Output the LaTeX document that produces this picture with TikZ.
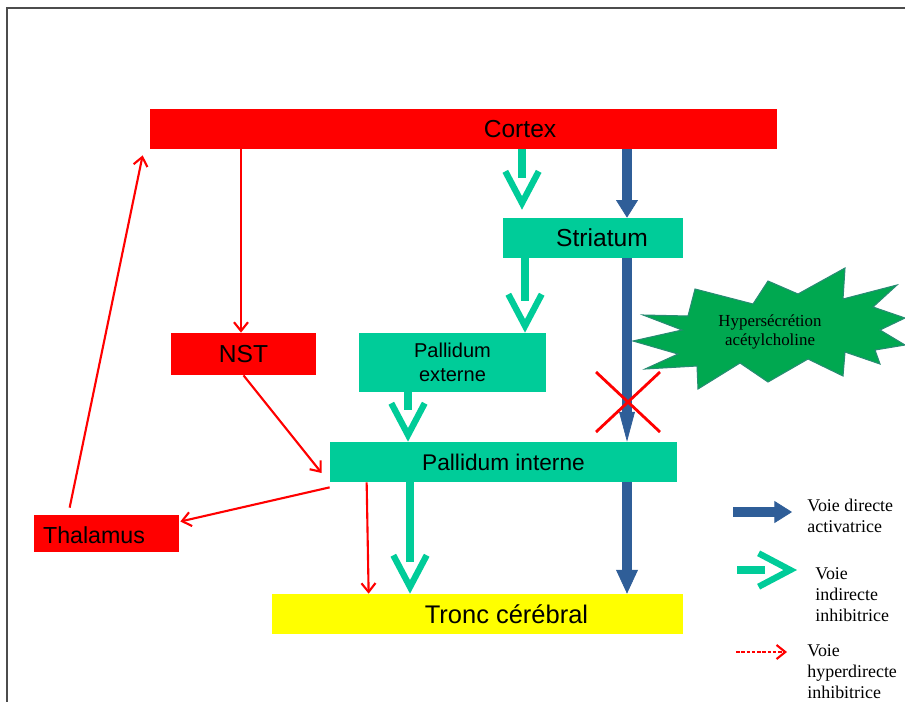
\documentclass[tikz,border=0pt]{standalone}
\usepackage{fontspec}
\setmainfont{Liberation Serif}
\setsansfont{Liberation Sans}
\usetikzlibrary{arrows.meta}
\definecolor{corred}{RGB}{255,0,0}
\definecolor{indteal}{RGB}{0,204,153}
\definecolor{tronyellow}{RGB}{255,255,0}
\definecolor{dirblue}{RGB}{47,94,152}
\definecolor{burstgreen}{RGB}{0,168,80}
\definecolor{burstline}{RGB}{40,140,115}
\tikzset{
  box/.style={inner sep=0pt, font=\sffamily\fontsize{14}{16}\selectfont},
  redbox/.style={box, fill=corred},
  tealbox/.style={box, fill=indteal},
  direct/.style={draw=dirblue, line width=6.2pt, -{Triangle[length=10pt,width=12.5pt,line width=0.4pt]}},
  indirect/.style={draw=indteal, line width=5pt, shorten >=18pt,
    postaction={draw=indteal, line width=3.6pt, shorten >=#1, dash pattern=on 0pt off 2000pt,
      -{Straight Barb[length=18pt,width=19pt]}}},
  indirect/.default=0pt,
  hyper/.style={draw=corred, line width=1.2pt, -{Straight Barb[length=5pt,width=8pt]}},
  legend/.style={align=left, anchor=west, inner sep=0pt, font=\fontsize{10.2}{12}\selectfont},
}
\begin{document}
\begin{tikzpicture}[x=0.2mm,y=-0.2mm]
    \useasboundingbox (0,0) rectangle (905,702);
    \draw[black!70, line width=1pt] (6,8) -- (905,8) (7,8) -- (7,702);
    %
    \node[redbox, minimum width=12.54cm, minimum height=0.8cm, label={[box, xshift=1.13cm]center:Cortex}] (cortex) at (463.5,129) {};
    \node[tealbox, minimum width=3.6cm, minimum height=0.8cm] (striatum) at (593,238) {\hspace*{0.36cm}Striatum};
    \node[redbox, minimum width=2.9cm, minimum height=0.84cm] (nst) at (243.5,354) {NST};
    \node[tealbox, minimum width=3.74cm, minimum height=1.18cm, align=center, font=\sffamily\fontsize{11.4}{13.6}\selectfont] (pext) at (452.5,362.5) {Pallidum\\externe};
    \node[tealbox, minimum width=6.94cm, minimum height=0.8cm, font=\sffamily\fontsize{12.9}{15}\selectfont] (pint) at (503.5,462) {Pallidum interne};
    \node[redbox, minimum width=2.9cm, minimum height=0.74cm, label={[box, font=\sffamily\fontsize{13.2}{15}\selectfont, xshift=-0.25cm, yshift=-0.03cm]center:Thalamus}] (thal) at (106.5,533.5) {};
    \node[box, fill=tronyellow, minimum width=8.22cm, minimum height=0.8cm, label={[box, font=\sffamily\fontsize{14.5}{17}\selectfont, xshift=0.58cm]center:Tronc cérébral}] (tronc) at (477.5,614) {};
    %
    \filldraw[fill=burstgreen, draw=burstline, line width=0.6pt] (643,315) -- (688,316) -- (695,289) -- (753,304) -- (768,281) -- (798,294) -- (845,268) -- (843,299) -- (897,285) -- (873,307) -- (905,318) -- (880,330) -- (905,345) -- (875,350) -- (880,364) -- (845,352) -- (843,376) -- (808,359) -- (768,382) -- (740,363) -- (698,389) -- (697,366) -- (645,369) -- (678,354) -- (633,341) -- (682,330) -- cycle;
    \node[align=center, font=\fontsize{9.6}{11.3}\selectfont] (burst) at (770,332) {Hypersécrétion\\acétylcholine};
    %
    \coordinate (dcol) at (627,0);
    \coordinate (icola) at (522,0);
    \coordinate (icolb) at (525,0);
    \coordinate (icolc) at (408,0);
    \coordinate (icold) at (410,0);
    \coordinate (rcol) at (241,0);
    %
    \draw[direct] (cortex.south -| dcol) -- (striatum.north -| dcol);
    \draw[direct, -{Triangle[length=17pt,width=9pt,line width=0.4pt]}] (striatum.south -| dcol) -- (pint.north -| dcol);
    \draw[direct, -{Triangle[length=13.6pt,width=12.5pt,line width=0.4pt]}] (pint.south -| dcol) -- (tronc.north -| dcol);
    %
    \draw[indirect=4.5pt, shorten >=22.5pt] (cortex.south -| icola) -- (striatum.north -| icola);
    \draw[indirect] (striatum.south -| icolb) -- (pext.north -| icolb);
    \draw[indirect] (pext.south -| icolc) -- (pint.north -| icolc);
    \draw[indirect] (pint.south -| icold) -- (tronc.north -| icold);
    %
    \draw[hyper] (cortex.south -| rcol) -- (nst.north -| rcol);
    \draw[hyper] (nst.south) -- ([shift={(-8,11)}]pint.west);
    \draw[hyper] ([shift={(0,5)}]pint.south west) -- ([shift={(1,-12)}]thal.east);
    \draw[hyper] ([shift={(36,-7)}]thal.north west) -- ([shift={(-7,6)}]cortex.south west);
    \draw[hyper] ([shift={(37,0)}]pint.south west) -- ([shift={(97,0)}]tronc.north west);
    %
    \draw[corred, line width=1.6pt] (596,372) -- (660,432) (596,432) -- (660,372);
    %
    \coordinate (lda) at (733,512);
    \coordinate (ldb) at (792,512);
    \coordinate (lia) at (737,570);
    \coordinate (lib) at (797,570);
    \coordinate (lha) at (736,652);
    \coordinate (lhb) at (787,652);
    \draw[direct] (lda) -- (ldb);
    \draw[indirect] (lia) -- (lib);
    \draw[hyper, dash pattern=on 2pt off 1pt] (lha) -- (lhb);
    \node[legend] (ldtext) at (807,516) {Voie directe\\activatrice};
    \node[legend] (litext) at (815,595) {Voie\\indirecte\\inhibitrice};
    \node[legend] (lhtext) at (807,672) {Voie\\hyperdirecte\\inhibitrice};
\end{tikzpicture}
\end{document}
